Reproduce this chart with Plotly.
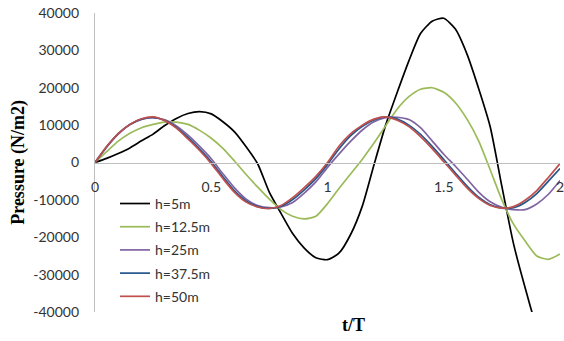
import plotly.graph_objects as go

t = [0, 0.05, 0.1, 0.15, 0.2, 0.25, 0.3, 0.35, 0.4, 0.45, 0.5,
     0.55, 0.6, 0.65, 0.7, 0.75, 0.8, 0.85, 0.9, 0.95, 1.0,
     1.05, 1.1, 1.15, 1.2, 1.25, 1.3, 1.35, 1.4, 1.45, 1.5,
     1.55, 1.6, 1.65, 1.7, 1.75, 1.8, 1.85, 1.9, 1.95, 2.0]

h5 = [0, 1100, 2400, 3900, 5800, 7600, 9900, 11800, 13100, 13600, 13000,
      10900, 8200, 4200, -400, -8000, -13600, -19000, -22900, -25500, -26000,
      -24200, -19200, -11600, -600, 10000, 18800, 27200, 34500, 37800, 38600,
      35700, 29000, 19800, 9500, -6400, -21700, -33500, -44000, -49000, -51000]

h12_5 = [0, 2900, 5700, 7800, 9300, 10200, 10800, 10800, 10200, 8600, 6500,
         3800, 400, -3200, -6600, -9800, -12600, -14400, -15100, -14400, -11000,
         -6900, -3000, 900, 5200, 9800, 14300, 17600, 19600, 20000, 18800,
         16000, 11600, 5800, -2000, -10000, -16500, -21000, -25000, -25900, -24500]

h25 = [0, 4100, 7600, 10100, 11500, 11900, 11400, 9800, 7300, 4300, 1000,
       -3000, -6800, -9800, -11500, -12100, -11900, -10700, -8200, -5200, -1300,
       2300, 5700, 8700, 10900, 12000, 12100, 11500, 9300, 5800, 2200,
       -1000, -4400, -7900, -10500, -12000, -12600, -12600, -11100, -8500, -4800]

h37_5 = [0, 4200, 7700, 10200, 11600, 12100, 11300, 9400, 6700, 3600, 200,
         -3800, -7600, -10300, -11800, -12300, -11700, -9900, -7300, -4300, -500,
         3700, 7200, 9700, 11400, 12200, 11600, 10000, 7500, 4300, 800,
         -2800, -6300, -9300, -11300, -12200, -12100, -10700, -8300, -5000, -1600]

h50 = [0, 4300, 7700, 10200, 11700, 12200, 11200, 9200, 6300, 3200, -300,
       -4300, -8000, -10600, -11900, -12300, -11500, -9400, -6700, -3700, 0,
       4400, 7700, 10000, 11600, 12200, 11300, 9600, 6900, 3700, 200,
       -3300, -6800, -9600, -11500, -12200, -11800, -10100, -7500, -4000, -300]

names = ["h=5m", "h=12.5m", "h=25m", "h=37.5m", "h=50m"]
series = [h5, h12_5, h25, h37_5, h50]
colors = ["#000000", "#9BBB59", "#8064A2", "#24568C", "#C0504D"]

x_ticks = [0, 0.5, 1, 1.5, 2]
x_tick_text = ["0", "0.5", "1", "1.5", "2"]
y_ticks = [-40000, -30000, -20000, -10000, 0, 10000, 20000, 30000, 40000]
y_tick_text = [str(v) for v in y_ticks]

fig = go.Figure()
for i, (n, s, c) in enumerate(zip(names, series, colors)):
    fig.add_trace(go.Scatter(x=t, y=s, mode="lines", name=n,
                             line=dict(color=c, width=1.7, shape="spline", smoothing=0.6),
                             legendgroup="g%d" % i))

tick_font = dict(family="Lato, Liberation Sans, sans-serif", size=14, color="#333333")
title_font = dict(family="Liberation Serif, Times New Roman, serif", size=18, color="#000000")

fig.update_layout(
    width=564, height=341,
    margin=dict(l=95, r=0, t=13, b=29),
    paper_bgcolor="white", plot_bgcolor="white",
    showlegend=True,
    legend=dict(x=0.043, y=0.415, xanchor="left", yanchor="top",
                font=tick_font, bgcolor="rgba(0,0,0,0)",
                traceorder="grouped", tracegroupgap=2),
    xaxis=dict(range=[0, 2], tickvals=x_ticks, ticktext=x_tick_text,
               showgrid=False, zeroline=False, showline=True,
               linecolor="#BFBFBF", linewidth=1.3,
               anchor="free", position=0.5, ticks="",
               ticklabelstandoff=12, ticklabeloverflow="allow",
               tickfont=tick_font),
    yaxis=dict(range=[-40000, 40000], tickvals=y_ticks, ticktext=y_tick_text,
               showgrid=False, zeroline=False, showline=True,
               linecolor="#BFBFBF", linewidth=1.3, ticks="",
               ticklabelstandoff=12, tickfont=tick_font),
    annotations=[
        dict(text="<b>Pressure (N/m2)</b>", xref="paper", yref="paper",
             x=-0.165, y=0.5, textangle=-90, showarrow=False,
             xanchor="center", yanchor="middle", font=title_font),
        dict(text="<b>t/T</b>", xref="paper", yref="paper",
             x=0.556, y=-0.045, showarrow=False,
             xanchor="center", yanchor="middle", font=title_font),
    ],
)

fig.write_html("out.html")
